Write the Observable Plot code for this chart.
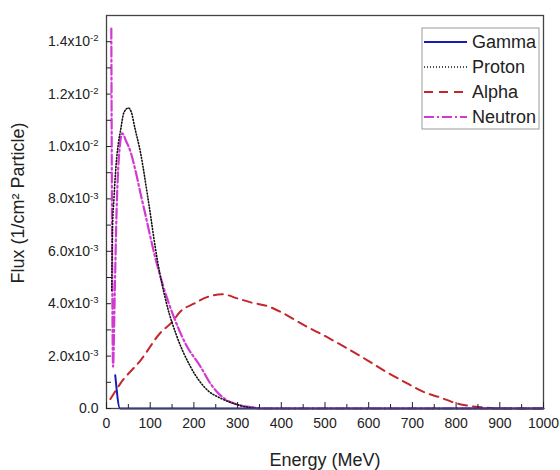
<!DOCTYPE html>
<html>
<head>
<meta charset="utf-8">
<script src="https://cdn.jsdelivr.net/npm/d3@7"></script>
<script src="https://cdn.jsdelivr.net/npm/@observablehq/plot@0.6"></script>
<style>
  html, body { margin: 0; padding: 0; background: #fff; }
  #chart { width: 560px; height: 470px; }
</style>
</head>
<body>
<div id="chart"></div>
<script>
// ---- data ----
const seriesNames = ["Gamma", "Proton", "Alpha", "Neutron"];

const gammaEnergy = [20, 31, 1000];
const gammaFlux   = [0.00127, 0, 0];

const protonEnergy = [12, 14, 17, 22, 27, 32, 40, 50, 57, 65, 78, 96, 116, 139, 160, 192, 231, 260, 284, 320, 350, 1000];
const protonFlux   = [0.0045, 0.0070, 0.0080, 0.0093, 0.0101, 0.0106, 0.0113, 0.01147, 0.0113, 0.0107, 0.00975, 0.0079, 0.0057, 0.0039, 0.0028, 0.0016, 0.0007, 0.0004, 0.00023, 0.00006, 0, 0];

const alphaEnergy = [9, 32, 78, 124, 150, 169, 200, 230, 265, 300, 330, 370, 405, 450, 505, 550, 597, 640, 688, 730, 764, 800, 825, 863, 900, 1000];
const alphaFlux   = [0.00036, 0.00096, 0.00184, 0.0029, 0.0033, 0.0037, 0.0040, 0.00425, 0.00436, 0.0042, 0.00405, 0.0039, 0.00363, 0.0032, 0.00272, 0.0023, 0.00184, 0.0014, 0.00096, 0.0006, 0.00042, 0.0002, 0.00011, 0.00004, 0, 0];

const neutronEnergy = [11, 15, 19, 23, 28, 36, 45, 55, 66, 78, 89, 108, 131, 154, 180, 215, 240, 268, 300, 330, 360, 1000];
const neutronFlux   = [0.0145, 0.0016, 0.0045, 0.0075, 0.0095, 0.0105, 0.0102, 0.0098, 0.0091, 0.0082, 0.0074, 0.0060, 0.0046, 0.0035, 0.0025, 0.0016, 0.0009, 0.0004, 0.00015, 0.00005, 0, 0];

const xMajorTicks = [0, 100, 200, 300, 400, 500, 600, 700, 800, 900, 1000];
const xMinorTicks = [50, 150, 250, 350, 450, 550, 650, 750, 850, 950];
const yMajorTicks = [0, 0.002, 0.004, 0.006, 0.008, 0.010, 0.012, 0.014];
const yMinorTicks = [0.001, 0.003, 0.005, 0.007, 0.009, 0.011, 0.013];

const xTitle = "Energy (MeV)";
const yTitle = "Flux (1/cm\u00B2 Particle)";

// ---- styles ----
const styleOf = {
  Gamma:   {stroke: "#1a1ab4", strokeWidth: 2,   strokeDasharray: null},
  Proton:  {stroke: "#111111", strokeWidth: 1.6, strokeDasharray: "1,2"},
  Alpha:   {stroke: "#c4262c", strokeWidth: 2,   strokeDasharray: "9,6"},
  Neutron: {stroke: "#d13ad1", strokeWidth: 2.2, strokeDasharray: "10,3,2,3"}
};

const energies = {Gamma: gammaEnergy, Proton: protonEnergy, Alpha: alphaEnergy, Neutron: neutronEnergy};
const fluxes   = {Gamma: gammaFlux,   Proton: protonFlux,   Alpha: alphaFlux,   Neutron: neutronFlux};
const rows = seriesNames.flatMap(name =>
  energies[name].map((e, i) => ({series: name, energy: e, flux: fluxes[name][i]})));

function yFmt(d) {
  if (d === 0) return "0.0";
  const ex = Math.floor(Math.log10(d) + 1e-9);
  const m = d / Math.pow(10, ex);
  return m.toFixed(1) + "x10^" + ex;
}

const drawOrder = ["Alpha", "Neutron", "Proton", "Gamma"];
const FONT = "'Liberation Sans', Arial, sans-serif";

const chart = Plot.plot({
  width: 560,
  height: 470,
  marginLeft: 106,
  marginRight: 17,
  marginTop: 15,
  marginBottom: 62,
  x: {domain: [0, 1000]},
  y: {domain: [0, 0.015]},
  style: {fontFamily: FONT, fontSize: "14px", color: "#222", background: "#fff"},
  marks: [
    ...drawOrder.map(name => Plot.line(rows.filter(r => r.series === name), {
      x: "energy", y: "flux", ...styleOf[name], strokeLinejoin: "round", curve: "monotone-x"
    })),
    Plot.frame({stroke: "#444", strokeWidth: 1.3}),
    Plot.axisX(xMajorTicks, {tickSize: -6, tickPadding: 16, tickFormat: d => String(d), label: null, stroke: "#222"}),
    Plot.axisX(xMinorTicks, {tickSize: -4, tickFormat: () => "", label: null, stroke: "#222"}),
    Plot.axisY(yMajorTicks, {tickSize: -5, tickPadding: 13, tickFormat: yFmt, label: null, stroke: "#222"}),
    Plot.axisY(yMinorTicks, {tickSize: -5, tickFormat: () => "", label: null, stroke: "#222"}),
    Plot.text([xTitle], {text: d => d, frameAnchor: "bottom", textAnchor: "middle", lineAnchor: "middle", dy: 52, fontSize: 18, fill: "#222"}),
    Plot.text([yTitle], {text: d => d, frameAnchor: "left", textAnchor: "middle", lineAnchor: "middle", rotate: -90, dx: -88, dy: -9, fontSize: 18, fill: "#222"})
  ]
});

document.getElementById("chart").appendChild(chart);

// superscript exponents on y tick labels
d3.select(chart).selectAll('g[aria-label="y-axis tick label"] text').each(function() {
  const t = d3.select(this);
  const s = t.text();
  const k = s.indexOf("^");
  if (k < 0) return;
  t.text(null);
  t.append("tspan").text(s.slice(0, k));
  t.append("tspan").attr("dy", "-0.5em").attr("font-size", "0.68em").text(s.slice(k + 1));
});

// legend (top right, inside the frame)
const lg = d3.select(chart).append("g").attr("transform", "translate(422,28)");
lg.append("rect").attr("width", 117).attr("height", 101)
  .attr("fill", "#fff").attr("stroke", "#999").attr("stroke-width", 1);
seriesNames.forEach((name, i) => {
  const y = 14 + i * 25;
  const st = styleOf[name];
  lg.append("line").attr("x1", 2).attr("x2", 45).attr("y1", y).attr("y2", y)
    .attr("stroke", st.stroke).attr("stroke-width", st.strokeWidth)
    .attr("stroke-dasharray", st.strokeDasharray);
  lg.append("text").attr("x", 50).attr("y", y).attr("dy", "0.35em")
    .attr("text-anchor", "start")
    .attr("font-size", 18).attr("fill", "#222")
    .attr("font-family", FONT).text(name);
});
</script>
</body>
</html>
